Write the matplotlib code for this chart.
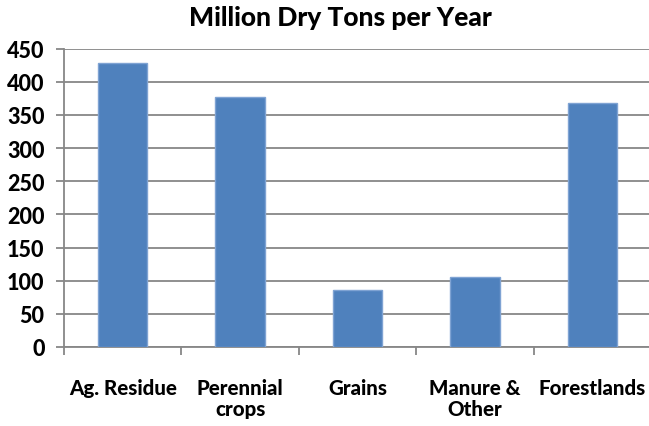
import matplotlib
matplotlib.use("Agg")
import matplotlib.pyplot as plt
import numpy as np

categories = ["Ag. Residue", "Perennial\ncrops", "Grains", "Manure &\nOther", "Forestlands"]
values = [429, 377, 86, 106, 368]
yticks = [0, 50, 100, 150, 200, 250, 300, 350, 400, 450]

plt.rcParams['font.family'] = ['Lato', 'DejaVu Sans']

fig = plt.figure(figsize=(6.49, 4.27), dpi=100)
ax = fig.add_axes([64/649, 1-348/427, 1-64/649+0.003, (348-49.7)/427])

x = np.arange(len(categories))
ax.bar(x, values, width=0.42, color="#4F81BD", edgecolor="#7FA3D3", linewidth=1.0, zorder=3)

ax.set_xlim(-0.5, len(categories)-0.5)
ax.set_ylim(0, 450)
ax.set_yticks(yticks)
ax.set_yticklabels([str(v) for v in yticks], fontsize=15.5, fontweight=900)
ax.yaxis.grid(True, color="#878787", linewidth=1.3, zorder=0)
ax.set_axisbelow(True)

ax.set_xticks(x)
ax.set_xticklabels(categories, fontsize=14.8, fontweight=900, linespacing=1.15)
ax.set_xticks(np.arange(-0.5, len(categories)-0.5, 1.0), minor=True)
ax.tick_params(axis='x', which='major', length=0, pad=22)
ax.tick_params(axis='x', which='minor', length=6, width=1.3, color="#878787", direction='out')
ax.tick_params(axis='y', length=6, width=1.3, color="#878787", pad=8)

for s in ['top', 'right']:
    ax.spines[s].set_visible(False)
for s in ['left', 'bottom']:
    ax.spines[s].set_color("#878787")
    ax.spines[s].set_linewidth(1.3)

fig.text(340/649, 1-18/427, "Million Dry Tons per Year", ha='center', va='center',
         fontsize=19, fontweight=900)

fig.savefig("out.png", dpi=100)
